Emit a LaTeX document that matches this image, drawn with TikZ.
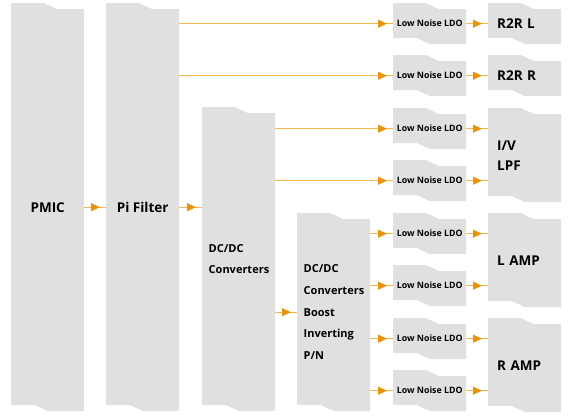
\documentclass[tikz,border=0pt]{standalone}
\usepackage{fontspec}
\setmainfont{Open Sans}
\usetikzlibrary{arrows.meta,decorations.markings}
\definecolor{boxgray}{HTML}{E0E0E0}
\definecolor{feedline}{HTML}{F6B74A}
\definecolor{feedtip}{HTML}{E8940C}

\begin{document}
\begin{tikzpicture}[x=1pt, y=-1pt,
	blk/.style={anchor=north west, inner sep=0pt, minimum width=73pt, minimum height=#1,
		path picture={\fill[boxgray] (path picture bounding box.north west) -- ++(33pt,0) -- ++(13pt,-6pt)
			-| (path picture bounding box.south east) -- ++(-36pt,0) -- ++(-13pt,6pt)
			-| (path picture bounding box.north west) -- cycle;}},
	big/.style={font=\bfseries\fontsize{13.5}{20}\selectfont},
	mid/.style={font=\bfseries\fontsize{11}{21.7}\selectfont, text width=60pt, align=left},
	small/.style={font=\bfseries\fontsize{8.8}{10}\selectfont},
	feed/.style={draw=feedline, line width=1.1pt, postaction={decorate},
		decoration={markings, mark=at position -6pt with {\arrow{Triangle[length=9pt,width=8pt,color=feedtip]}}}}]
	\useasboundingbox (0,0) rectangle (568,419);

	% supply chain
	\node [blk=408, big] (pmic) at (11,3) {PMIC};
	\node [blk=408, big] (pi) at (106,3) {Pi Filter};
	\node [blk=304, mid] (dcdc) at (202,107) {DC/DC\\Converters};
	\node [blk=198, mid] (boost) at (297,213) {DC/DC\\Converters\\Boost\\Inverting\\P/N};

	% regulators
	\foreach \t [count=\i] in {3,55,108,160,213,265,318,370}
		\node [blk=41, small] (ldo\i) at (393,\t) {Low Noise LDO};

	% loads
	\node [blk=41, big, text width=55pt, align=left] (r2rl) at (488,3) {R2R L};
	\node [blk=41, big, text width=55pt, align=left] (r2rr) at (488,55) {R2R R};
	\node [blk=94, big, text width=55pt, align=left] (ivlpf) at (488,108) {I/V\\LPF};
	\node [blk=94, big, text width=55pt, align=left] (lamp) at (488,213) {L AMP};
	\node [blk=94, big, text width=55pt, align=left] (ramp) at (488,318) {R AMP};

	\draw [feed] (pmic) -- (pi);
	\draw [feed] (pi) -- (pi -| dcdc.west);
	\draw [feed] (boost -| dcdc.east) -- (boost);
	\foreach \i in {1,2} \draw [feed] (pi.east |- ldo\i) -- (ldo\i);
	\foreach \i in {3,4} \draw [feed] (dcdc.east |- ldo\i) -- (ldo\i);
	\foreach \i in {5,...,8} \draw [feed] (boost.east |- ldo\i) -- (ldo\i);

	\draw [feed] (ldo1) -- (r2rl);
	\draw [feed] (ldo2) -- (r2rr);
	\foreach \i in {3,4} \draw [feed] (ldo\i) -- (ldo\i -| ivlpf.west);
	\foreach \i in {5,6} \draw [feed] (ldo\i) -- (ldo\i -| lamp.west);
	\foreach \i in {7,8} \draw [feed] (ldo\i) -- (ldo\i -| ramp.west);
\end{tikzpicture}
\end{document}
